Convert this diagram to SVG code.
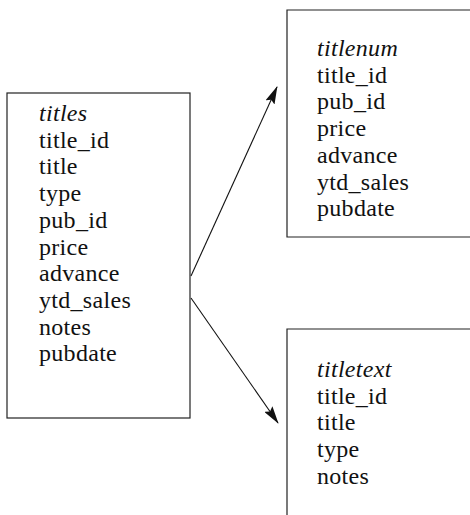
<svg xmlns="http://www.w3.org/2000/svg" width="470" height="515" viewBox="0 0 470 515">
<defs>
<style>
.box{fill:none;stroke:#222;stroke-width:1.2}
.t{font-family:"Liberation Serif","Times New Roman",serif;font-size:24px;letter-spacing:0.3px;fill:#111}
.h{font-style:italic}
.c{stroke:#111;stroke-width:1.1;fill:none}
</style>
<marker id="ah" markerWidth="18" markerHeight="10" refX="17" refY="5" orient="auto" markerUnits="userSpaceOnUse">
<path d="M0,0 L18,5 L0,10 L3,5 Z" fill="#111"/>
</marker>
</defs>
<rect width="470" height="515" fill="#fff"/>
<g id="titles">
<rect class="box" x="7" y="93" width="183" height="325"/>
<text class="t"><tspan class="h" x="39" y="121">titles</tspan><tspan x="39" y="147.7">title_id</tspan><tspan x="39" y="174.4">title</tspan><tspan x="39" y="201.1">type</tspan><tspan x="39" y="227.8">pub_id</tspan><tspan x="39" y="254.5">price</tspan><tspan x="39" y="281.2">advance</tspan><tspan x="39" y="307.9">ytd_sales</tspan><tspan x="39" y="334.6">notes</tspan><tspan x="39" y="361.3">pubdate</tspan></text>
</g>
<g id="titlenum">
<path class="box" d="M470,10 H287 V237 H470"/>
<text class="t"><tspan class="h" x="317" y="56">titlenum</tspan><tspan x="317" y="82.7">title_id</tspan><tspan x="317" y="109.4">pub_id</tspan><tspan x="317" y="136.1">price</tspan><tspan x="317" y="162.8">advance</tspan><tspan x="317" y="189.5">ytd_sales</tspan><tspan x="317" y="216.2">pubdate</tspan></text>
</g>
<g id="titletext">
<path class="box" d="M470,329 H287 V515"/>
<text class="t"><tspan class="h" x="317" y="377">titletext</tspan><tspan x="317" y="403.7">title_id</tspan><tspan x="317" y="430.4">title</tspan><tspan x="317" y="457.1">type</tspan><tspan x="317" y="483.8">notes</tspan></text>
</g>
<g id="connectors">
<line class="c" x1="191" y1="276" x2="277" y2="87" marker-end="url(#ah)"/>
<line class="c" x1="191" y1="298" x2="278" y2="423" marker-end="url(#ah)"/>
</g>
</svg>
